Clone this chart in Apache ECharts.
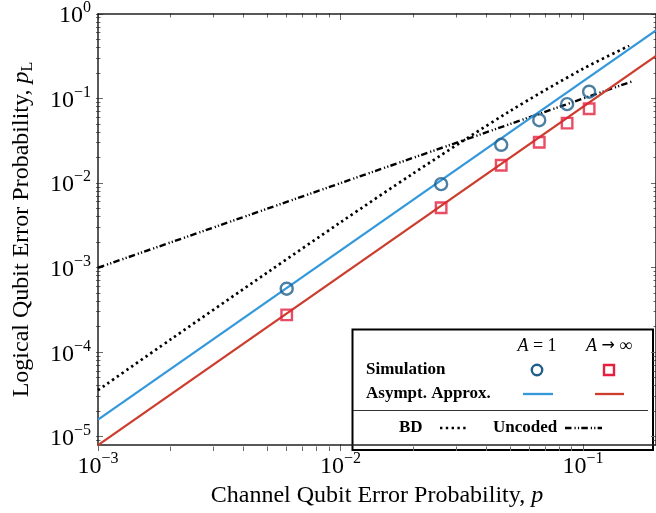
<!DOCTYPE html>
<html>
<head>
<meta charset="utf-8">
<script src="https://cdn.jsdelivr.net/npm/echarts@6/dist/echarts.min.js"></script>
<style>html,body{margin:0;padding:0;background:#fff}#c{width:656px;height:513px}</style>
</head>
<body>
<div id="c"></div>
<script>
// ---- data ----
const xRange = [0.001, 0.2];
const yRange = [8e-6, 1];
const xTickLabels = [0.001, 0.01, 0.1];
const yTickLabels = [1e-5, 1e-4, 1e-3, 1e-2, 1e-1, 1];

const pSim = [0.006, 0.026, 0.046, 0.066, 0.086, 0.106];
const simA1 = [5.65e-4, 9.73e-3, 0.0284, 0.0555, 0.0859, 0.1206];
const simAinf = [2.77e-4, 5.12e-3, 0.0163, 0.0305, 0.0512, 0.0759];

const pAsym = [0.001, 0.2];
const asymA1 = [1.6e-5, 0.64];
const asymAinf = [8e-6, 0.32];

const pBD = [0.001, 0.002, 0.005, 0.01, 0.02, 0.05, 0.1, 0.155];
const bd = [3.57e-5, 1.43e-4, 8.8e-4, 3.44e-3, 0.0131, 0.0712, 0.225, 0.42];

const pUnc = [0.001, 0.16];
const uncoded = [0.001, 0.16];

// ---- styling ----
const FONT = 'Liberation Serif';
const C_BLUE = '#3498db', C_RED = '#cc3d2e', C_CIRC = '#1f5f8b', C_SQ = '#e3203f';
const DASH_DOT = [6.5, 3, 1.2, 2.2, 1.2, 2.2];
const DOTS = [2.4, 3.4];
const GRID = { left: 96, top: 13, width: 562, height: 438 };

function minorTicks(lo, hi) {
  const out = [];
  for (let e = -7; e <= 1; e++) {
    for (let k = 2; k <= 9; k++) {
      const v = k * Math.pow(10, e);
      if (v > lo * 1.0001 && v < hi * 0.9999) out.push(v);
    }
  }
  return out;
}
function zip(a, b) { return a.map((v, i) => [v, b[i]]); }
function powLabel(v) {
  const e = Math.round(Math.log10(v));
  return '{b|10}{s|' + (e < 0 ? '\u2212' + (-e) : e) + '}';
}
const labelRich = {
  b: { fontSize: 24, fontFamily: FONT, color: '#000', lineHeight: 28, verticalAlign: 'bottom' },
  s: { fontSize: 16, fontFamily: FONT, color: '#000', lineHeight: 16, verticalAlign: 'top' }
};
const axisLineStyle = { color: '#222', width: 1.5 };

function mkAxis(kind, pos, withLabels, range, extra) {
  const ax = {
    type: 'log', logBase: 10, position: pos, min: range[0], max: range[1],
    splitLine: { show: false }, minorTick: { show: false },
    axisLine: { show: true, lineStyle: axisLineStyle },
    axisTick: { show: false },
    axisLabel: withLabels ? {
      show: true, customValues: kind === 'x' ? xTickLabels : yTickLabels,
      formatter: powLabel, rich: labelRich, margin: kind === 'x' ? 6 : 7
    } : { show: false }
  };
  return Object.assign(ax, extra || {});
}

const legendGroup = { id: 'legend', type: 'group', z: 100, children: [
  { type: 'rect', shape: { x: 352.5, y: 329.5, width: 300.5, height: 120.5 },
    style: { fill: '#fff', stroke: '#000', lineWidth: 2 } },
  { type: 'text', style: { x: 537, y: 346, text: '{i|A} = 1', align: 'center', verticalAlign: 'middle',
    fontFamily: FONT, fontSize: 18, fill: '#000', rich: { i: { fontFamily: FONT, fontSize: 18, fontStyle: 'italic', fill: '#000' } } } },
  { type: 'text', style: { x: 609, y: 346, text: '{i|A} {a|\u2192} \u221e', align: 'center', verticalAlign: 'middle',
    fontFamily: FONT, fontSize: 18, fill: '#000', rich: {
      i: { fontFamily: FONT, fontSize: 18, fontStyle: 'italic', fill: '#000' },
      a: { fontFamily: 'DejaVu Sans', fontSize: 16, fill: '#000' } } } },
  { type: 'text', style: { x: 366, y: 370, text: 'Simulation', align: 'left', verticalAlign: 'middle',
    fontFamily: FONT, fontSize: 17, fontWeight: 'bold', fill: '#000' } },
  { type: 'text', style: { x: 366, y: 394, text: 'Asympt. Approx.', align: 'left', verticalAlign: 'middle',
    fontFamily: FONT, fontSize: 17, fontWeight: 'bold', fill: '#000' } },
  { type: 'circle', shape: { cx: 537, cy: 370, r: 5.2 }, style: { fill: 'none', stroke: C_CIRC, lineWidth: 2.4 } },
  { type: 'rect', shape: { x: 604, y: 365, width: 10, height: 10 }, style: { fill: 'none', stroke: C_SQ, lineWidth: 2.4 } },
  { type: 'line', shape: { x1: 523, y1: 394, x2: 553, y2: 394 }, style: { stroke: C_BLUE, lineWidth: 2.3 } },
  { type: 'line', shape: { x1: 595, y1: 394, x2: 624, y2: 394 }, style: { stroke: C_RED, lineWidth: 2.3 } },
  { type: 'line', shape: { x1: 353, y1: 410.5, x2: 648, y2: 410.5 }, style: { stroke: '#333', lineWidth: 1 } },
  { type: 'text', style: { x: 399, y: 428, text: 'BD', align: 'left', verticalAlign: 'middle',
    fontFamily: FONT, fontSize: 17, fontWeight: 'bold', fill: '#000' } },
  { type: 'line', shape: { x1: 440, y1: 428, x2: 466, y2: 428 }, style: { stroke: '#000', lineWidth: 2.7, lineDash: DOTS } },
  { type: 'text', style: { x: 493, y: 428, text: 'Uncoded', align: 'left', verticalAlign: 'middle',
    fontFamily: FONT, fontSize: 17, fontWeight: 'bold', fill: '#000' } },
  { type: 'line', shape: { x1: 565, y1: 428, x2: 602, y2: 428 }, style: { stroke: '#000', lineWidth: 2.4, lineDash: DASH_DOT } }
] };

const chart = echarts.init(document.getElementById('c'), null, { renderer: 'canvas' });

const option = {
  animation: false,
  backgroundColor: '#fff',
  grid: Object.assign({ containLabel: false }, GRID),
  xAxis: [
    mkAxis('x', 'bottom', true, xRange, {
      name: 'Channel Qubit Error Probability, {i|p}', nameLocation: 'middle', nameGap: 34,
      nameTextStyle: { fontFamily: FONT, fontSize: 24, color: '#000',
        rich: { i: { fontFamily: FONT, fontSize: 24, fontStyle: 'italic', color: '#000' } } }
    }),
    mkAxis('x', 'top', false, xRange)
  ],
  yAxis: [
    mkAxis('y', 'left', true, yRange, {
      name: 'Logical Qubit Error Probability, {i|p}{sub|L}', nameLocation: 'middle', nameGap: 62,
      nameTextStyle: { fontFamily: FONT, fontSize: 24, color: '#000', lineHeight: 28,
        rich: {
          i: { fontFamily: FONT, fontSize: 24, fontStyle: 'italic', color: '#000', lineHeight: 28 },
          sub: { fontFamily: FONT, fontSize: 16, color: '#000', lineHeight: 16, verticalAlign: 'bottom' }
        } }
    }),
    mkAxis('y', 'right', false, yRange)
  ],
  series: [
    { name: 'BD', type: 'line', data: zip(pBD, bd), smooth: 0.3, showSymbol: false, symbol: 'none',
      lineStyle: { color: '#000', width: 2.7, type: DOTS, cap: 'butt' }, z: 2 },
    { name: 'Uncoded', type: 'line', data: zip(pUnc, uncoded), showSymbol: false, symbol: 'none',
      lineStyle: { color: '#000', width: 2.4, type: DASH_DOT, cap: 'butt' }, z: 2 },
    { name: 'Asympt A=1', type: 'line', data: zip(pAsym, asymA1), showSymbol: false, symbol: 'none',
      lineStyle: { color: C_BLUE, width: 2.3 }, z: 3 },
    { name: 'Asympt A=inf', type: 'line', data: zip(pAsym, asymAinf), showSymbol: false, symbol: 'none',
      lineStyle: { color: C_RED, width: 2.3 }, z: 3 },
    { name: 'Sim A=1', type: 'scatter', data: zip(pSim, simA1), symbol: 'circle', symbolSize: 12,
      itemStyle: { color: 'rgba(0,0,0,0)', borderColor: C_CIRC, borderWidth: 2.4 }, z: 4 },
    { name: 'Sim A=inf', type: 'scatter', data: zip(pSim, simAinf), symbol: 'rect', symbolSize: 10.5,
      itemStyle: { color: 'rgba(0,0,0,0)', borderColor: C_SQ, borderWidth: 2.4 }, z: 4 }
  ],
  graphic: [legendGroup]
};
chart.setOption(option);

// ---- inward tick marks on all four sides, positioned through the axes ----
(function addTicks() {
  const children = [];
  const st = { stroke: '#6a6a6a', lineWidth: 1 };
  const L = GRID.left, R = GRID.left + GRID.width, T = GRID.top, B = GRID.top + GRID.height;
  function xt(v, len) {
    let x = chart.convertToPixel({ xAxisIndex: 0 }, v);
    if (!isFinite(x)) return;
    x = Math.round(x - 0.5) + 0.5;
    children.push({ type: 'line', shape: { x1: x, y1: B, x2: x, y2: B - len }, style: st });
    children.push({ type: 'line', shape: { x1: x, y1: T, x2: x, y2: T + len }, style: st });
  }
  function yt(v, len) {
    let y = chart.convertToPixel({ yAxisIndex: 0 }, v);
    if (!isFinite(y)) return;
    y = Math.round(y - 0.5) + 0.5;
    children.push({ type: 'line', shape: { x1: L, y1: y, x2: L + len, y2: y }, style: st });
    children.push({ type: 'line', shape: { x1: R, y1: y, x2: R - len, y2: y }, style: st });
  }
  xTickLabels.forEach(v => xt(v, 7));
  minorTicks(xRange[0], xRange[1]).forEach(v => xt(v, 4.5));
  yTickLabels.forEach(v => yt(v, 7));
  minorTicks(yRange[0], yRange[1]).forEach(v => yt(v, 4.5));
  chart.setOption({ graphic: [legendGroup, { id: 'ticks', type: 'group', z: 1, silent: true, children: children }] });
})();
</script>
</body>
</html>
